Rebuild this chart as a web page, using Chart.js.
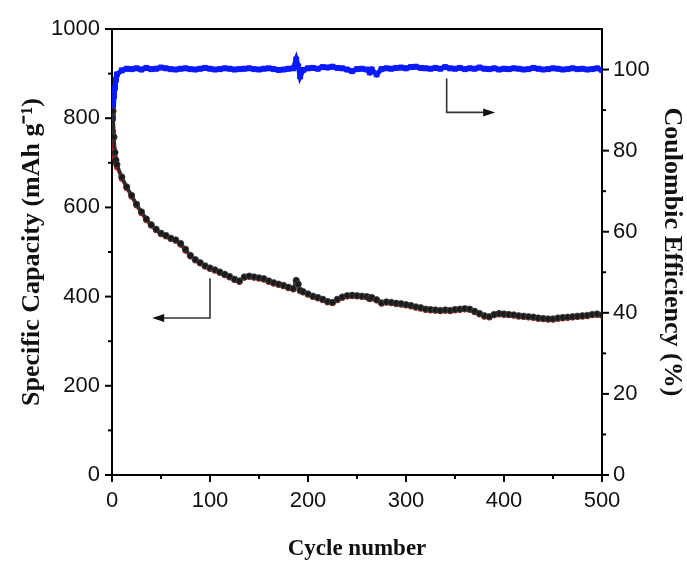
<!DOCTYPE html>
<html>
<head>
<meta charset="utf-8">
<script src="https://cdn.jsdelivr.net/npm/chart.js@4/dist/chart.umd.min.js"></script>
<style>
  html, body { margin: 0; padding: 0; background: #fff; }
  #wrap { width: 687px; height: 565px; }
</style>
</head>
<body>
<div id="wrap"><canvas id="c" width="687" height="565"></canvas></div>
<script>
// ---- Data ----
const cycles = [1,2,3,4,5,10,15,20,25,30,35,40,45,50,55,60,65,70,75,80,85,90,95,100,105,110,115,120,125,130,135,140,145,150,155,160,165,170,175,180,185,188,190,192,195,200,205,210,215,220,225,230,235,240,245,250,255,260,263,265,270,275,280,285,290,295,300,305,310,315,320,325,330,335,340,345,350,355,360,365,370,375,380,385,390,395,400,405,410,415,420,425,430,435,440,445,450,455,460,465,470,475,480,485,490,495,500];

const capacityBlack = [816,758,723,706,696,668,646,627,607,590,574,561,551,542,537,531,527,519,506,492,483,476,469,464,460,455,450,445,439,435,444,446,444,442,440,435,431,428,425,421,418,436,428,414,411,406,401,398,394,389,387,394,399,402,403,402,401,400,396,398,393,386,388,387,385,384,382,380,377,375,372,371,370,369,370,369,371,372,373,372,367,362,357,355,360,362,361,360,359,357,356,355,354,352,351,350,350,352,353,354,355,356,357,358,360,361,359];

const capacityRed = [771,730,712,700,690,664,643,624,604,587,571,559,549,540,535,529,525,516,503,490,481,474,467,462,458,453,448,443,437,433,442,444,442,440,438,433,429,426,423,419,416,432,426,412,409,404,399,396,392,387,385,392,397,400,401,400,399,398,394,396,391,384,386,385,383,382,380,378,375,373,370,369,368,367,368,367,369,370,371,370,365,360,355,353,358,360,359,358,357,355,354,353,352,350,349,348,348,350,351,352,353,354,355,356,358,359,357];

const coulombicEff = [88,93.5,95.5,97.5,98.8,99.8,100.2,100.1,100.3,100.0,100.4,100.1,100.2,100.5,100.3,100.1,100.0,100.2,100.3,100.1,100.0,100.2,100.4,100.2,100.0,100.1,100.3,100.2,100.0,100.1,100.2,100.3,100.1,100.0,100.2,100.3,100.1,99.9,100.0,100.2,100.3,102.5,100.8,98.3,99.9,100.3,100.4,100.2,100.6,100.5,100.7,100.4,100.3,100.0,99.6,100.1,100.2,100.0,99.3,100.0,98.8,100.1,100.3,100.2,100.4,100.5,100.3,100.6,100.7,100.4,100.3,100.2,100.4,100.2,100.6,100.3,100.2,100.4,100.1,100.3,100.2,100.5,100.2,100.1,100.3,100.0,100.2,100.1,100.3,100.2,100.0,100.1,100.4,100.2,100.0,100.1,100.3,100.2,100.0,100.1,100.3,100.1,100.2,100.0,100.1,100.3,99.9];

const xTicks = [0,100,200,300,400,500];
const xMinorTicks = [50,150,250,350,450];
const capTicks = [0,200,400,600,800,1000];
const capMinorTicks = [100,300,500,700,900];
const ceTicks = [0,20,40,60,80,100];
const ceMinorTicks = [10,30,50,70,90];

// annotation arrows (in data units of x and left y axis)
const arrowCap = { x: 100, yFrom: 441, yTo: 352, tipX: 41 };
const arrowCE  = { x: 341.5, yFrom: 889, yTo: 813, tipX: 391 };

const toXY = (arr) => cycles.map((c, i) => ({ x: c, y: arr[i] }));

const tickFont = { family: "'Liberation Sans', Arial, sans-serif", size: 22 };
const titleFont = { family: "'Liberation Serif', 'Times New Roman', serif", size: 23, weight: 'bold' };
const yTitleFont = { family: "'Liberation Serif', 'Times New Roman', serif", size: 26, weight: 'bold' };

const decor = {
  id: 'decor',
  afterDraw(chart) {
    const ctx = chart.ctx;
    const { left, right, top, bottom } = chart.chartArea;
    const xs = chart.scales.x, yl = chart.scales.y, yr = chart.scales.y2;
    ctx.save();
    ctx.strokeStyle = '#000';
    ctx.lineWidth = 2;
    ctx.beginPath(); ctx.moveTo(left - 1, top); ctx.lineTo(right + 1, top); ctx.stroke();
    const tick = (x1, y1, x2, y2) => { ctx.beginPath(); ctx.moveTo(x1, y1); ctx.lineTo(x2, y2); ctx.stroke(); };
    xTicks.forEach(v => { const p = xs.getPixelForValue(v); tick(p, bottom, p, bottom + 7); });
    xMinorTicks.forEach(v => { const p = xs.getPixelForValue(v); tick(p, bottom, p, bottom + 4); });
    capTicks.forEach(v => { const p = yl.getPixelForValue(v); tick(left, p, left - 7, p); });
    capMinorTicks.forEach(v => { const p = yl.getPixelForValue(v); tick(left, p, left - 4, p); });
    ceTicks.forEach(v => { const p = yr.getPixelForValue(v); tick(right, p, right + 7, p); });
    ceMinorTicks.forEach(v => { const p = yr.getPixelForValue(v); tick(right, p, right + 4, p); });

    const drawArrow = (a, dir) => {
      const x = xs.getPixelForValue(a.x);
      const y1 = yl.getPixelForValue(a.yFrom);
      const y2 = yl.getPixelForValue(a.yTo);
      const tx = xs.getPixelForValue(a.tipX);
      ctx.strokeStyle = '#333';
      ctx.fillStyle = '#111';
      ctx.lineWidth = 1.6;
      ctx.beginPath();
      ctx.moveTo(x, y1); ctx.lineTo(x, y2); ctx.lineTo(tx - dir * 10, y2);
      ctx.stroke();
      ctx.beginPath();
      ctx.moveTo(tx, y2);
      ctx.lineTo(tx - dir * 12, y2 - 4);
      ctx.lineTo(tx - dir * 12, y2 + 4);
      ctx.closePath();
      ctx.fill();
    };
    drawArrow(arrowCap, -1);
    drawArrow(arrowCE, 1);
    ctx.restore();
  }
};

const plain = (v) => String(v);

new Chart(document.getElementById('c'), {
  type: 'scatter',
  data: {
    datasets: [
      {
        label: 'Coulombic efficiency',
        data: toXY(coulombicEff),
        yAxisID: 'y2',
        showLine: true,
        borderColor: '#0a1aff',
        backgroundColor: '#0a1aff',
        borderWidth: 5,
        pointStyle: 'rect',
        pointRadius: 3.5,
        pointBorderColor: '#0a1aff',
        pointBorderWidth: 1,
        order: 3
      },
      {
        label: 'Discharge capacity',
        data: toXY(capacityRed),
        yAxisID: 'y',
        showLine: true,
        borderColor: '#e01010',
        backgroundColor: '#e01010',
        borderWidth: 3,
        pointRadius: 3,
        pointBorderWidth: 0,
        order: 2
      },
      {
        label: 'Charge capacity',
        data: toXY(capacityBlack),
        yAxisID: 'y',
        showLine: true,
        borderColor: '#2a2a2a',
        backgroundColor: '#1a1a1a',
        borderWidth: 3.5,
        pointRadius: 3.2,
        pointBorderColor: '#444',
        pointBorderWidth: 0.8,
        order: 1
      }
    ]
  },
  options: {
    responsive: false,
    animation: false,
    devicePixelRatio: 1,
    layout: { padding: { top: 29, left: 0, right: 0, bottom: 0 } },
    plugins: { legend: { display: false }, tooltip: { enabled: false } },
    scales: {
      x: {
        type: 'linear',
        min: 0, max: 500,
        afterFit: (s) => { s.height = 90; },
        afterBuildTicks: (s) => { s.ticks = xTicks.map(v => ({ value: v })); },
        grid: { display: false, drawTicks: false },
        border: { display: true, color: '#000', width: 2 },
        ticks: { font: tickFont, color: '#111', padding: 13, maxRotation: 0, callback: plain },
        title: { display: true, text: 'Cycle number', font: titleFont, color: '#111', padding: { top: 0, bottom: 2 } }
      },
      y: {
        type: 'linear',
        position: 'left',
        min: 0, max: 1000,
        afterFit: (s) => { s.width = 112; },
        afterBuildTicks: (s) => { s.ticks = capTicks.map(v => ({ value: v })); },
        grid: { display: false, drawTicks: false },
        border: { display: true, color: '#000', width: 2 },
        ticks: { font: tickFont, color: '#111', padding: 12, callback: plain },
        title: { display: true, text: 'Specific Capacity (mAh g\u207B\u00B9)', font: yTitleFont, color: '#111', padding: { top: 17, bottom: 0 } }
      },
      y2: {
        type: 'linear',
        position: 'right',
        min: 0, max: 110,
        afterFit: (s) => { s.width = 85; },
        afterBuildTicks: (s) => { s.ticks = ceTicks.map(v => ({ value: v })); },
        grid: { display: false, drawTicks: false },
        border: { display: true, color: '#000', width: 2 },
        ticks: { font: tickFont, color: '#111', padding: 11, callback: plain },
        title: { display: true, text: 'Coulombic Efficiency (%)', font: yTitleFont, color: '#111', padding: { top: 0, bottom: 0 } }
      }
    }
  },
  plugins: [decor]
});
</script>
</body>
</html>
